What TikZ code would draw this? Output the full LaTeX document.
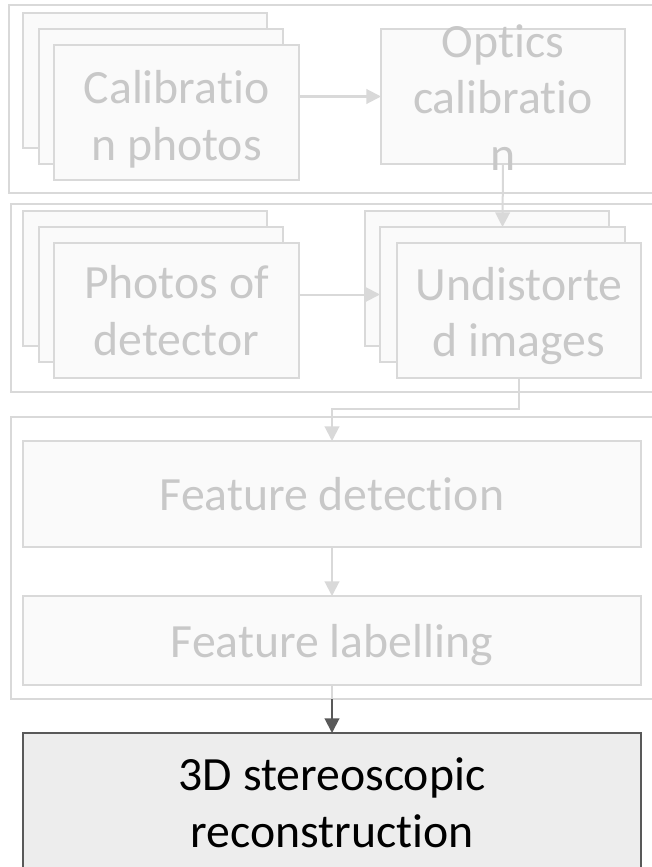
\documentclass[tikz,border=0pt]{standalone}
\usepackage{fontspec}
\setmainfont{Carlito}[Ligatures=NoCommon]
\usetikzlibrary{arrows.meta,calc}
\definecolor{faintline}{HTML}{D9D9D9}
\definecolor{faintfill}{HTML}{FAFAFA}
\definecolor{fainttext}{HTML}{C8C8C8}
\definecolor{darkline}{HTML}{595959}
\definecolor{activefill}{HTML}{EDEDED}
\begin{document}
\begin{tikzpicture}[x=0.75pt,y=-0.75pt,
  dims/.style 2 args={minimum width=#1*0.75pt,minimum height=#2*0.75pt},
  group/.style={draw=faintline,line width=1.5pt,fill=white,inner sep=0pt,outer sep=0pt,anchor=north west},
  card/.style={draw=faintline,line width=1.5pt,fill=faintfill,inner sep=0pt,outer sep=0pt,anchor=north west},
  boxtext/.style={text=fainttext,font=\fontsize{35.8pt}{42.5pt}\selectfont,align=center,inner sep=0pt},
  flow/.style={draw=faintline,line width=1.5pt,-{Triangle[length=11pt,width=11pt]}},
]
\useasboundingbox (0,0) rectangle (652,867);
\fill[white] (0,0) rectangle (652,867);
\clip (0,0) rectangle (652,867);

% stage frames
\node[group,dims={651}{188}] (g1) at (9,5) {};
\node[group,dims={649}{188}] (g2) at (11,204) {};
\node[group,dims={649}{282}] (g3) at (11,417) {};

% calibration photos (stacked)
\node[card,dims={244}{135}] (calA) at (23,13) {};
\node[card,dims={244}{135}] (calB) at (39,29) {};
\node[card,dims={245}{135}] (cal) at (54,45) {};
\node[boxtext] (calT) at ($(cal.center)+(0,7)$) {Calibratio\\n photos};

% optics calibration
\node[card,dims={244}{135}] (opt) at (381,29) {};
\node[boxtext] (optT) at ($(opt.center)+(0,1)$) {Optics\\calibratio\\n};

% photos of detector (stacked)
\node[card,dims={244}{135}] (phA) at (23,211) {};
\node[card,dims={244}{135}] (phB) at (39,227) {};
\node[card,dims={245}{135}] (ph) at (54,243) {};
\node[boxtext] (phT) at (ph.center) {Photos of\\detector};

% undistorted images (stacked)
\node[card,dims={244}{135}] (undA) at (365,211) {};
\node[card,dims={245}{135}] (undB) at (380,227) {};
\node[card,dims={244}{135}] (und) at (397,243) {};
\node[boxtext] (undT) at ($(und.center)+(0,5.5)$) {Undistorte\\d images};

% feature steps
\node[card,dims={618}{106}] (fd) at (23,441) {};
\node[boxtext] (fdT) at (fd.center) {Feature detection};
\node[card,dims={618}{89}] (fl) at (23,596) {};
\node[boxtext] (flT) at ($(fl.center)+(0,5)$) {Feature labelling};

% reconstruction
\node[anchor=north west,draw=darkline,line width=1.5pt,fill=activefill,inner sep=0pt,outer sep=0pt,dims={618}{144}] (rec) at (23,733) {};
\node[boxtext,text=black] (recT) at (332,802.5) {3D stereoscopic\\reconstruction};

% connectors
\draw[flow] (cal.east |- opt.west) -- (opt.west);
\draw[flow] (opt.south) -- (undB.north);
\draw[flow] (ph.east |- undB.west) -- (undB.west);
\draw[flow] (und.south) -- ++(0,31) -| (fd.north);
\draw[flow] (fd.south) -- (fl.north);
\coordinate (g3out) at (fl.south |- g3.south);
\draw[draw=faintline,line width=1.5pt] (fl.south) -- (g3out);
\draw[draw=darkline,line width=1.5pt,-{Triangle[length=11pt,width=11pt]}] (g3out) -- (rec.north);
\end{tikzpicture}
\end{document}
